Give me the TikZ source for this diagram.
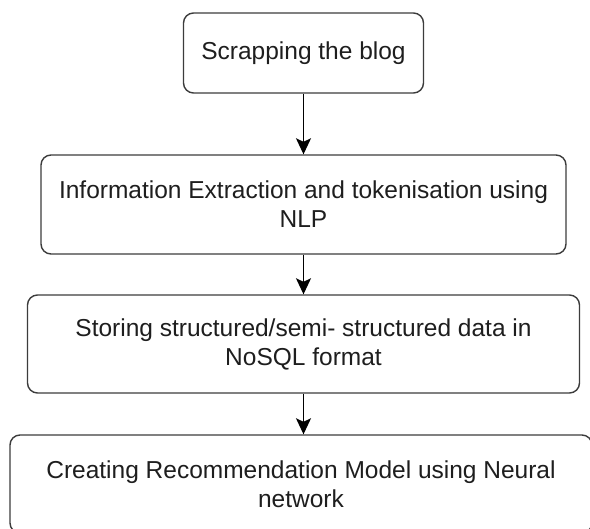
\documentclass[tikz,border=0pt]{standalone}
\usepackage{fontspec}
\setmainfont{Liberation Sans}
\usetikzlibrary{arrows.meta}
\definecolor{boxgray}{HTML}{3C3C3C}
\definecolor{txt}{HTML}{1E1E1E}
\begin{document}
\begin{tikzpicture}[x=1pt,y=-1pt,
  box/.style={draw=boxgray, line width=1.4pt, rounded corners=10pt, fill=white,
    align=center, font=\fontsize{24.5}{29}\selectfont, text=txt, inner sep=0pt},
  arr/.style={draw=black, line width=1.3pt,
    -{Stealth[length=16pt,width=15pt,inset=3.5pt]}}]
\useasboundingbox (0,0) rectangle (590,529);
\fill[white] (0,0) rectangle (590,529);
\node[box, minimum width=240pt, minimum height=80pt] (b1) at (303.5,53) {Scrapping the blog};
\node[box, minimum width=525pt, minimum height=99pt] (b2) at (303.5,204.5)
  {Information Extraction and tokenisation using\\NLP};
\node[box, minimum width=552pt, minimum height=98pt] (b3) at (303.5,344)
  {Storing structured/semi- structured data in\\NoSQL format};
\node[box, minimum width=582pt, minimum height=98pt] (b4) at (301,484)
  {Creating Recommendation Model using Neural\\network};
\draw[arr] (b1.south) -- (b1.south |- b2.north);
\draw[arr] (b2.south) -- (b2.south |- b3.north);
\draw[arr] (b3.south) -- (b3.south |- b4.north);
\end{tikzpicture}
\end{document}
